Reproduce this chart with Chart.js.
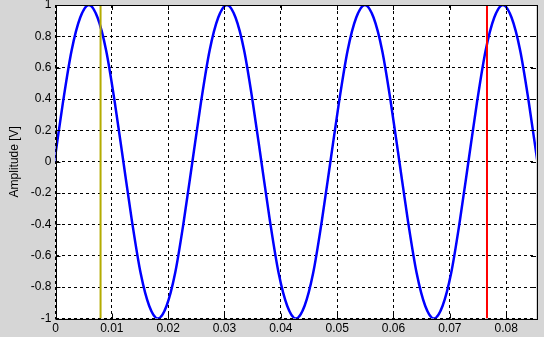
<!DOCTYPE html>
<html>
<head>
<meta charset="utf-8">
<script src="https://cdn.jsdelivr.net/npm/chart.js@4.4.1/dist/chart.umd.min.js"></script>
<style>
html,body{margin:0;padding:0;background:#d6d6d6;}
#wrap{width:544px;height:337px;position:relative;}
</style>
</head>
<body>
<div id="wrap"><canvas id="c" width="544" height="337"></canvas></div>
<script>
// Time samples [s]
const timeValues = [-0.0002,0.00133,0.00286,0.00439,0.00593,0.00746,0.00899,0.01052,0.01205,0.01358,0.01511,0.01664,0.01818,0.01971,0.02124,0.02277,0.0243,0.02583,0.02736,0.02889,0.03043,0.03196,0.03349,0.03502,0.03655,0.03808,0.03961,0.04114,0.04268,0.04421,0.04574,0.04727,0.0488,0.05033,0.05186,0.05339,0.05493,0.05646,0.05799,0.05952,0.06105,0.06258,0.06411,0.06564,0.06718,0.06871,0.07024,0.07177,0.0733,0.07483,0.07636,0.07789,0.07943,0.08096,0.08249,0.08402,0.08555];
// Amplitude samples [V]
const amplitudeValues = [0,0.38,0.71,0.92,1,0.92,0.71,0.38,0,-0.38,-0.71,-0.92,-1,-0.92,-0.71,-0.38,0,0.38,0.71,0.92,1,0.92,0.71,0.38,0,-0.38,-0.71,-0.92,-1,-0.92,-0.71,-0.38,0,0.38,0.71,0.92,1,0.92,0.71,0.38,0,-0.38,-0.71,-0.92,-1,-0.92,-0.71,-0.38,0,0.38,0.71,0.92,1,0.92,0.71,0.38,0];
// Cursor positions [s]
const cursorYellow = 0.008;
const cursorRed = 0.0766;
// Axis ranges / tick labels
const xTicks = [0,0.01,0.02,0.03,0.04,0.05,0.06,0.07,0.08];
const yTicks = [-1,-0.8,-0.6,-0.4,-0.2,0,0.2,0.4,0.6,0.8,1];
const xMin = 0, xMax = 0.0853, yMin = -1, yMax = 1;

const wave = timeValues.map((t,i)=>({x:t,y:amplitudeValues[i]}));

const framePlugin = {
  id:'frame',
  afterDatasetsDraw(chart){
    const {ctx, chartArea:a, scales} = chart;
    ctx.save();
    ctx.strokeStyle = '#000';
    ctx.lineWidth = 1;
    ctx.setLineDash([]);
    ctx.beginPath();
    const L = 5;
    xTicks.forEach(v=>{
      const px = Math.round(scales.x.getPixelForValue(v))+0.5;
      ctx.moveTo(px,a.bottom); ctx.lineTo(px,a.bottom-L);
      ctx.moveTo(px,a.top); ctx.lineTo(px,a.top+L);
    });
    yTicks.forEach(v=>{
      const py = Math.round(scales.y.getPixelForValue(v))+0.5;
      ctx.moveTo(a.left,py); ctx.lineTo(a.left+L,py);
      ctx.moveTo(a.right,py); ctx.lineTo(a.right-L,py);
    });
    ctx.stroke();
    ctx.strokeRect(Math.round(a.left)+0.5, Math.round(a.top)+0.5, Math.round(a.right-a.left), Math.round(a.bottom-a.top));
    ctx.restore();
  }
};
const bgPlugin = {
  id:'bg',
  beforeDraw(chart){
    const {ctx, chartArea:a} = chart;
    ctx.save();
    ctx.fillStyle='#ffffff';
    ctx.fillRect(a.left,a.top,a.right-a.left,a.bottom-a.top);
    ctx.restore();
  }
};

new Chart(document.getElementById('c'), {
  type:'line',
  data:{
    datasets:[
      {data:wave, borderColor:'#0000ff', borderWidth:2.5, pointRadius:0, cubicInterpolationMode:'monotone', fill:false, order:2},
      {data:[{x:cursorYellow,y:yMin},{x:cursorYellow,y:yMax}], borderColor:'#b4ac00', borderWidth:2, pointRadius:0, order:1},
      {data:[{x:cursorRed,y:yMin},{x:cursorRed,y:yMax}], borderColor:'#ff0000', borderWidth:2, pointRadius:0, order:1}
    ]
  },
  options:{
    responsive:false,
    animation:false,
    devicePixelRatio:1,
    layout:{padding:{top:5,right:8,left:0,bottom:0}},
    plugins:{legend:{display:false},tooltip:{enabled:false}},
    scales:{
      x:{
        type:'linear', min:xMin, max:xMax,
        afterBuildTicks(s){ s.ticks = xTicks.map(v=>({value:v})); },
        afterFit(s){ s.height = 18.5; s.paddingLeft = 0; s.paddingRight = 0; },
        grid:{color:'#000', lineWidth:1, drawTicks:false, tickLength:0},
        border:{display:false, dash:[3,3]},
        ticks:{color:'#000', font:{family:'Liberation Sans, Arial', size:12}, padding:3, maxRotation:0,
          callback:(v)=>String(Math.round(v*100)/100)}
      },
      y:{
        type:'linear', min:yMin, max:yMax,
        afterBuildTicks(s){ s.ticks = yTicks.map(v=>({value:v})); },
        afterFit(s){ s.width = 55.5; s.paddingTop = 0; s.paddingBottom = 0; },
        grid:{color:'#000', lineWidth:1, drawTicks:false, tickLength:0},
        border:{display:false, dash:[3,3]},
        title:{display:true, text:'Amplitude [V]', color:'#000', font:{family:'Liberation Sans, Arial', size:12}, padding:{top:7,bottom:0}},
        ticks:{color:'#000', font:{family:'Liberation Sans, Arial', size:12}, padding:4,
          callback:(v)=>String(Math.round(v*10)/10)}
      }
    }
  },
  plugins:[bgPlugin, framePlugin]
});
</script>
</body>
</html>
